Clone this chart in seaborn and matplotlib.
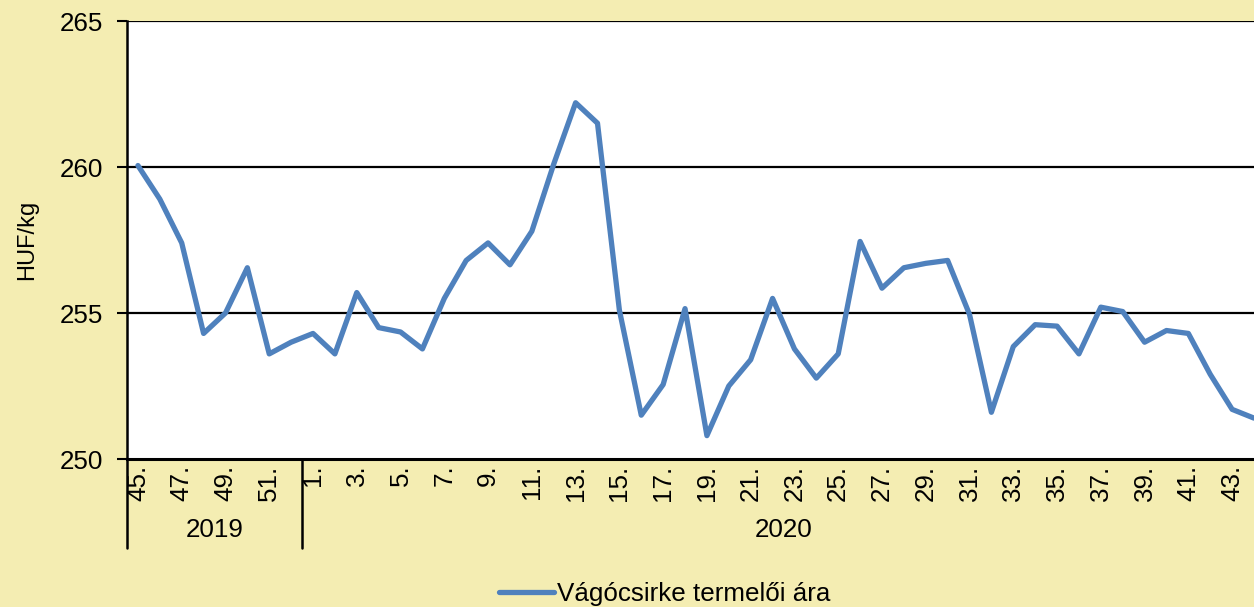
import numpy as np
import pandas as pd
import matplotlib
matplotlib.use("Agg")
import matplotlib.pyplot as plt
import matplotlib.transforms as mtransforms
import seaborn as sns

# Heti adatok: 2019. 45-52. hét, 2020. 1-44. hét
weeks_2019 = list(range(45, 53))
weeks_2020 = list(range(1, 45))
prices_2019 = [260.05, 258.9, 257.4, 254.3, 255.0, 256.55, 253.6, 254.0]
prices_2020 = [254.3, 253.6, 255.7, 254.5, 254.35, 253.77, 255.5, 256.8, 257.4, 256.65,
               257.8, 260.1, 262.2, 261.5, 255.1, 251.5, 252.55, 255.15, 250.8, 252.5,
               253.4, 255.5, 253.77, 252.77, 253.6, 257.45, 255.85, 256.55, 256.7, 256.8,
               254.95, 251.6, 253.85, 254.6, 254.55, 253.6, 255.2, 255.05, 254.0, 254.4,
               254.3, 252.9, 251.7, 251.4]
series_name = "Vágócsirke termelői ára"
y_label = "HUF/kg"
y_ticks = [250, 255, 260, 265]

BG = "#F4EDB2"
LINE = "#4F81BD"
FS = 18.7

sns.set_theme(style="white")
plt.rcParams["font.family"] = ["Liberation Sans", "DejaVu Sans"]
plt.rcParams["text.color"] = "black"
plt.rcParams["xtick.color"] = "black"
plt.rcParams["ytick.color"] = "black"
plt.rcParams["axes.labelcolor"] = "black"

weeks = weeks_2019 + weeks_2020
years = ["2019"] * len(weeks_2019) + ["2020"] * len(weeks_2020)
df = pd.DataFrame({
    "pos": np.arange(len(weeks)),
    "week": weeks,
    "year": years,
    "price": prices_2019 + prices_2020,
})

fig = plt.figure(figsize=(12.54, 6.07), dpi=100, facecolor=BG)
ax = fig.add_axes([127 / 1254, 148 / 607, 1127 / 1254, 438 / 607])
ax.set_facecolor("white")

sns.lineplot(data=df, x="pos", y="price", ax=ax, color=LINE, lw=3.8,
             label=series_name, legend=False)

ax.set_xlim(-0.5, len(weeks) - 1)
ax.set_ylim(250, 265)
ax.set_yticks(y_ticks)
ax.set_yticklabels([str(v) for v in y_ticks], fontsize=FS)
for v in y_ticks[1:]:
    ax.axhline(v, color="black", lw=1.6, zorder=1)

ax.set_ylabel(y_label, fontsize=17, labelpad=16)
ax.set_xlabel("")

# every other week labelled
lab_pos = df["pos"][::2]
ax.set_xticks(lab_pos)
ax.set_xticklabels([f"{w}." for w in df["week"][::2]], rotation=90, fontsize=FS)
ax.tick_params(axis="x", length=0, pad=4)
ax.tick_params(axis="y", length=7, width=1.5, color="black", direction="out", left=True, pad=10)

for s in ["top", "right"]:
    ax.spines[s].set_visible(False)
ax.spines["left"].set_color("black")
ax.spines["left"].set_linewidth(1.8)
ax.spines["bottom"].set_color("black")
ax.spines["bottom"].set_linewidth(2.2)

# year group separators and labels
trans = mtransforms.blended_transform_factory(ax.transData, ax.transAxes)
sep_depth = -89 / 438
n19 = len(weeks_2019)
for xs in [-0.5, n19 - 0.5]:
    ax.plot([xs, xs], [0, sep_depth], color="black", lw=1.8, transform=trans, clip_on=False)
ax.text((n19 - 1) / 2, -71 / 438, "2019", transform=trans, ha="center", va="center", fontsize=FS)
ax.text((n19 - 0.5 + len(weeks) - 0.5) / 2, -71 / 438, "2020", transform=trans,
        ha="center", va="center", fontsize=FS)

handles, labels = ax.get_legend_handles_labels()
fig.legend(handles, labels, loc="center", bbox_to_anchor=(0.53, 0.022), frameon=False,
           fontsize=FS, handlelength=2.1, handletextpad=0.1)

fig.savefig("out.png", dpi=100, facecolor=BG)
